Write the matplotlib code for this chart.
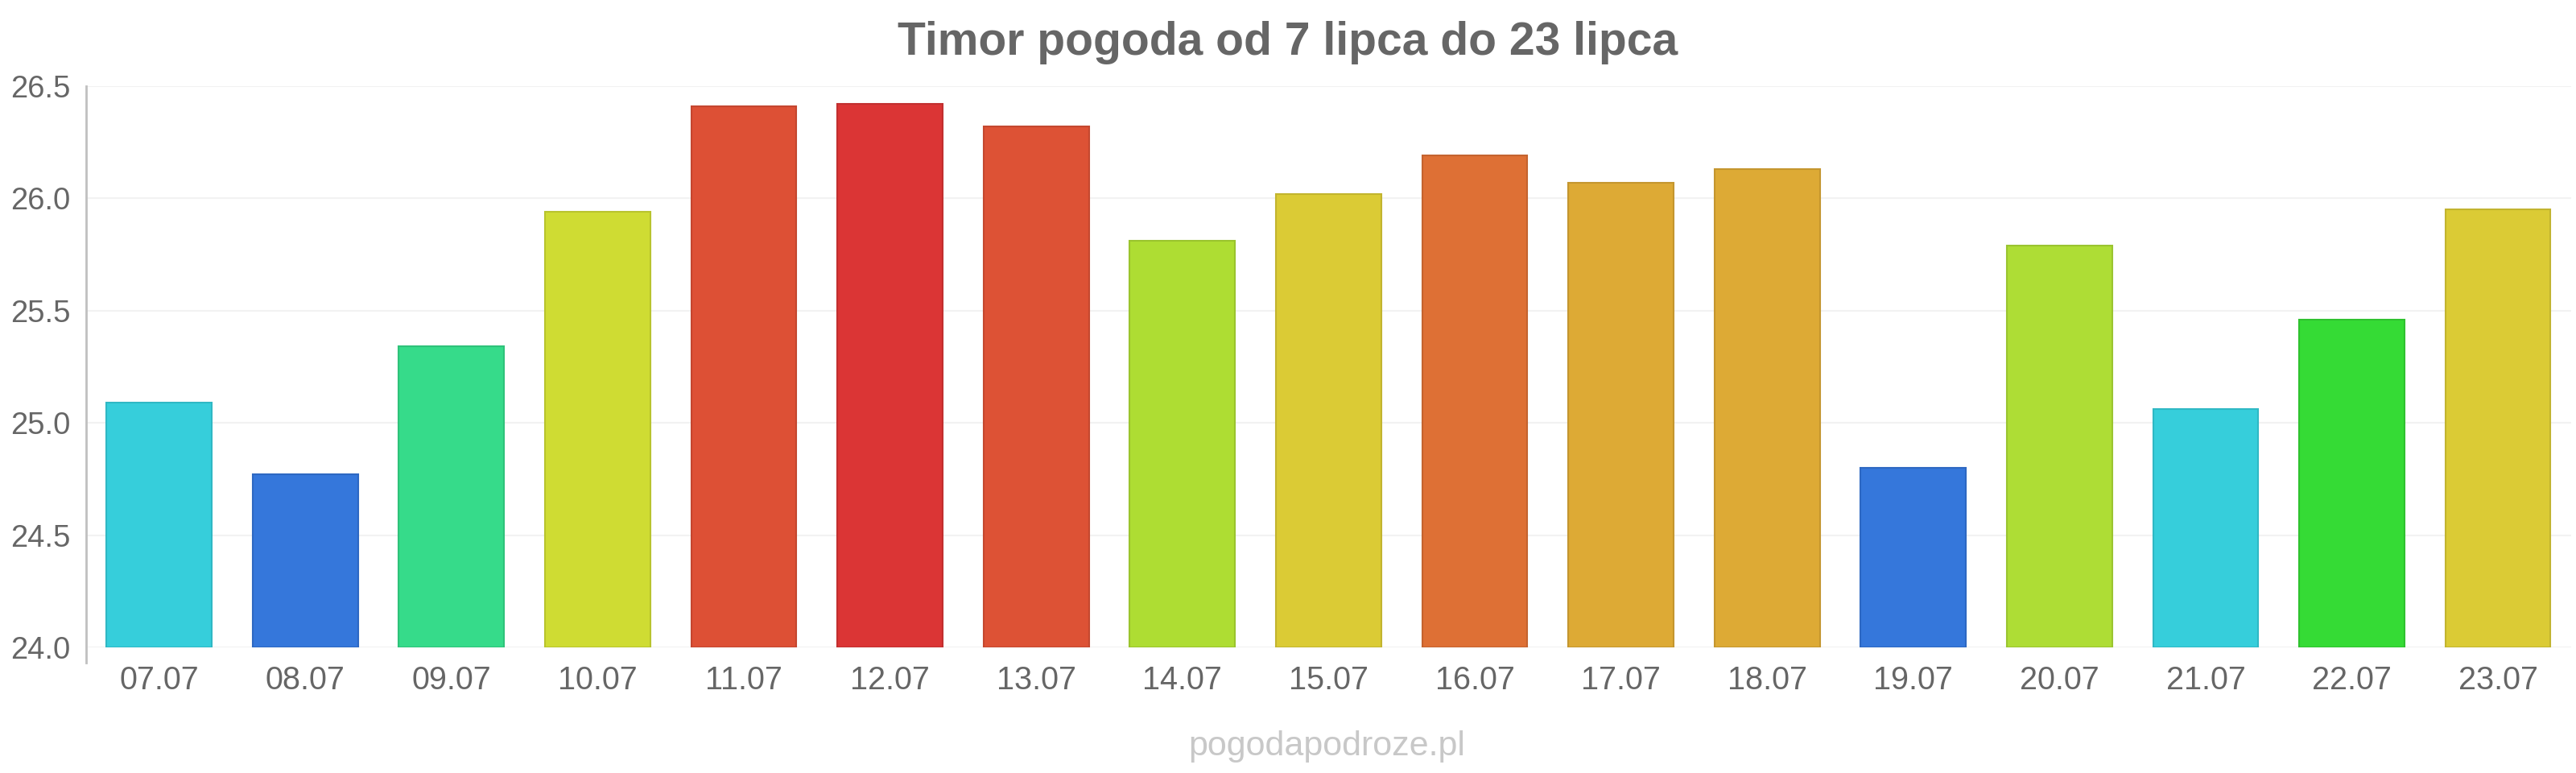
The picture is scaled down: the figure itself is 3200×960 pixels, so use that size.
import matplotlib.pyplot as plt
import numpy as np

days = ["07.07", "08.07", "09.07", "10.07", "11.07", "12.07", "13.07", "14.07", "15.07",
        "16.07", "17.07", "18.07", "19.07", "20.07", "21.07", "22.07", "23.07"]
temps = [25.09, 24.77, 25.34, 25.94, 26.41, 26.42, 26.32, 25.81, 26.02,
         26.19, 26.07, 26.13, 24.80, 25.79, 25.06, 25.46, 25.95]
colors = ["#36CEDB", "#3577DB", "#36DB8A", "#CFDC33", "#DD5035", "#DB3535", "#DD5235",
          "#AEDD33", "#DBCB35", "#DE7035", "#DDAA35", "#DDAA35", "#3577DB", "#AEDD35",
          "#36CEDB", "#35DB35", "#DBCB35"]
edges = ["#2FB8C4", "#2E68C2", "#2FC27A", "#B8C42D", "#C4462F", "#C22F2F", "#C4482F",
         "#9AC42D", "#C2B42F", "#C4632F", "#C4962F", "#C4962F", "#2E68C2", "#9AC42F",
         "#2FB8C4", "#2FC22F", "#C2B42F"]
yticks = [24.0, 24.5, 25.0, 25.5, 26.0, 26.5]

plt.rcParams['font.family'] = ['Liberation Sans', 'DejaVu Sans']

fig = plt.figure(figsize=(32, 9.6), dpi=100)
ax = fig.add_axes([0.0334, 0.1625, 0.9647, 0.726])

x = np.arange(len(days))
ax.bar(x, [t - 24.0 for t in temps], bottom=24.0, width=0.72, color=colors,
       edgecolor=edges, linewidth=1.5, zorder=3)

ax.set_xlim(-0.5, len(days) - 0.5)
ax.set_ylim(24.0, 26.5)
ax.set_yticks(yticks)
ax.set_yticklabels([f"{v:.1f}" for v in yticks])
ax.set_xticks(x)
ax.set_xticklabels(days)

ax.grid(axis="y", color="#F2F2F2", linewidth=1.5, zorder=0)
for s in ["top", "right", "bottom", "left"]:
    ax.spines[s].set_visible(False)
ax.plot([0, 0], [-0.027, 1.0], transform=ax.transAxes, color="#C0C0C0",
        linewidth=2, clip_on=False, zorder=4)

ax.tick_params(axis="y", length=0, pad=14, labelsize=27.5, labelcolor="#666666")
ax.tick_params(axis="x", length=0, pad=16, labelsize=28.5, labelcolor="#666666")

fig.text(0.5, 0.945, "Timor pogoda od 7 lipca do 23 lipca", ha="center", va="center",
         fontsize=41, fontweight="bold", color="#666666")
fig.text(0.515, 0.034, "pogodapodroze.pl", ha="center", va="center",
         fontsize=31, color="#C8C8C8")

fig.savefig("out.png", dpi=100, facecolor="white")
